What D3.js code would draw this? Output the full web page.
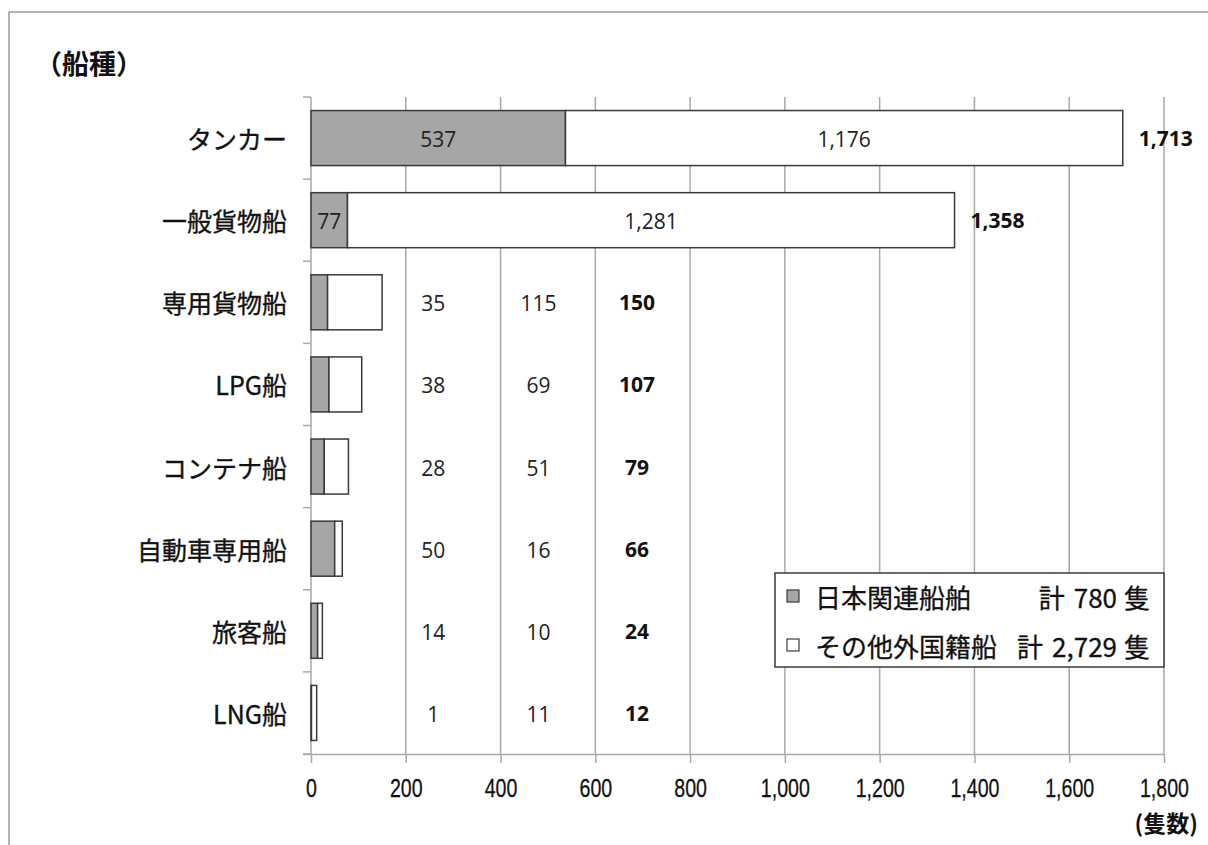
<!DOCTYPE html>
<html>
<head>
<meta charset="utf-8">
<script src="https://cdn.jsdelivr.net/npm/d3@7"></script>
<style>
  html, body { margin: 0; padding: 0; background: #fff; }
  svg { display: block; }
</style>
</head>
<body>
<svg id="chart" width="1208" height="845"></svg>
<script>
// Ship types and vessel counts
const categories = ["タンカー", "一般貨物船", "専用貨物船", "LPG船", "コンテナ船", "自動車専用船", "旅客船", "LNG船"];
const japanRelated = [537, 77, 35, 38, 28, 50, 14, 1];
const otherForeign = [1176, 1281, 115, 69, 51, 16, 10, 11];
const totals = [1713, 1358, 150, 107, 79, 66, 24, 12];
const xTicks = [0, 200, 400, 600, 800, 1000, 1200, 1400, 1600, 1800];
const seriesNames = ["日本関連船舶", "その他外国籍船"];
const seriesTotals = [780, 2729];

const svg = d3.select("#chart");
const W = 1208, H = 845;
const plot = { left: 311, right: 1164, top: 97, bottom: 754 };

const CJK = "'Noto Sans CJK JP', 'Noto Sans', sans-serif";
const NUM = "'Open Sans', 'Liberation Sans', sans-serif";
const gridColor = "#a8a8a8";
const barStroke = "#3a3a3a";
const fills = ["#a6a6a6", "#ffffff"];

// outer frame (open on the right and bottom edges of the canvas)
svg.append("rect")
  .attr("x", 9).attr("y", 12).attr("width", W + 20).attr("height", H + 20)
  .attr("fill", "none").attr("stroke", "#9a9a9a").attr("stroke-width", 1.5);

const x = d3.scaleLinear().domain([0, 1800]).range([plot.left, plot.right]);
const y = d3.scaleBand().domain(categories).range([plot.top, plot.bottom])
  .paddingInner(0.33).paddingOuter(0.165);

// vertical gridlines
svg.append("g").selectAll("line")
  .data(xTicks.filter(t => t > 0))
  .join("line")
  .attr("x1", d => x(d)).attr("x2", d => x(d))
  .attr("y1", plot.top).attr("y2", plot.bottom)
  .attr("stroke", gridColor).attr("stroke-width", 1.5);

// x axis with narrow tick numbers
const xAxis = svg.append("g")
  .attr("transform", `translate(0,${plot.bottom})`)
  .call(d3.axisBottom(x).tickValues(xTicks).tickFormat(d3.format(",")).tickSize(9).tickPadding(15.5));
xAxis.select(".domain").attr("stroke", gridColor).attr("stroke-width", 1.5)
  .attr("d", `M${plot.left - 8},0.5H${plot.right}`);
xAxis.selectAll(".tick line").attr("stroke", gridColor).attr("stroke-width", 1.5);
xAxis.selectAll(".tick text")
  .attr("font-family", "'Liberation Sans', sans-serif").attr("font-size", 26.5).attr("fill", "#111")
  .attr("stroke", "#111").attr("stroke-width", 0.3)
  .attr("transform", "scale(0.74,1)");

// y axis line with tick marks at band boundaries
const step = y.step();
const boundaries = d3.range(categories.length + 1).map(i => plot.top + i * step);
svg.append("line")
  .attr("x1", plot.left).attr("x2", plot.left)
  .attr("y1", plot.top).attr("y2", plot.bottom)
  .attr("stroke", gridColor).attr("stroke-width", 1.5);
svg.append("g").selectAll("line")
  .data(boundaries)
  .join("line")
  .attr("x1", plot.left - 8).attr("x2", plot.left)
  .attr("y1", d => d).attr("y2", d => d)
  .attr("stroke", gridColor).attr("stroke-width", 1.5);

// category labels
svg.append("g").selectAll("text")
  .data(categories)
  .join("text")
  .attr("x", 287)
  .attr("y", d => y(d) + y.bandwidth() / 2)
  .attr("text-anchor", "end")
  .attr("dominant-baseline", "central")
  .attr("font-family", CJK).attr("font-size", 25).attr("fill", "#111")
  .attr("stroke", "#111").attr("stroke-width", 0.35)
  .text(d => d);

// stacked bars
const stacks = categories.map((c, i) => ({
  cat: c,
  segs: [
    { s: 0, x0: 0, x1: japanRelated[i], v: japanRelated[i] },
    { s: 1, x0: japanRelated[i], x1: japanRelated[i] + otherForeign[i], v: otherForeign[i] }
  ],
  total: totals[i]
}));

const barG = svg.append("g");
stacks.forEach(row => {
  barG.selectAll(null)
    .data(row.segs)
    .join("rect")
    .attr("x", d => x(d.x0))
    .attr("y", y(row.cat))
    .attr("width", d => x(d.x1) - x(d.x0))
    .attr("height", y.bandwidth())
    .attr("fill", d => fills[d.s])
    .attr("stroke", barStroke).attr("stroke-width", 1.5);
});

// value labels: inside the segments for long bars, in fixed columns for short bars
const fmt = d3.format(",");
const colPos = [258, 480, 688];
const labelG = svg.append("g");
stacks.forEach(row => {
  const cy = y(row.cat) + y.bandwidth() / 2;
  const long = row.total > 600;
  row.segs.forEach(sg => {
    labelG.append("text")
      .attr("x", long ? x((sg.x0 + sg.x1) / 2) : x(colPos[sg.s]))
      .attr("y", cy + 1)
      .attr("text-anchor", "middle").attr("dominant-baseline", "central")
      .attr("font-family", NUM).attr("font-size", 21).attr("fill", "#222")
      .text(fmt(sg.v));
  });
  const tot = labelG.append("text")
    .attr("y", cy)
    .attr("dominant-baseline", "central")
    .attr("font-family", NUM).attr("font-size", 21).attr("font-weight", "bold").attr("fill", "#111")
    .text(fmt(row.total));
  if (long) tot.attr("x", x(row.total) + 16).attr("text-anchor", "start");
  else tot.attr("x", x(colPos[2])).attr("text-anchor", "middle");
});

// titles
svg.append("text")
  .attr("x", 35).attr("y", 62)
  .attr("dominant-baseline", "central")
  .attr("font-family", CJK).attr("font-size", 27).attr("font-weight", "bold").attr("fill", "#111")
  .text("（船種）");
svg.append("text")
  .attr("x", 1198).attr("y", 822)
  .attr("text-anchor", "end").attr("dominant-baseline", "central")
  .attr("font-family", CJK).attr("font-size", 23).attr("font-weight", "bold").attr("fill", "#111")
  .text("(隻数)");

// legend
const lg = svg.append("g");
lg.append("rect")
  .attr("x", 775).attr("y", 573).attr("width", 389).attr("height", 94)
  .attr("fill", "#fff").attr("stroke", barStroke).attr("stroke-width", 1.5);
const rowY = [596, 645];
const legendText = (sel) => sel
  .attr("dominant-baseline", "central")
  .attr("font-family", CJK).attr("font-size", 26).attr("fill", "#111")
  .attr("stroke", "#111").attr("stroke-width", 0.3);
seriesNames.forEach((name, i) => {
  lg.append("rect")
    .attr("x", 787).attr("y", rowY[i] - 6).attr("width", 12).attr("height", 12)
    .attr("fill", fills[i]).attr("stroke", barStroke).attr("stroke-width", 1.2);
  lg.append("text").call(legendText)
    .attr("x", 815).attr("y", rowY[i])
    .text(name);
  lg.append("text").call(legendText)
    .attr("x", 1150).attr("y", rowY[i]).attr("text-anchor", "end")
    .text("隻");
  const num = lg.append("text").call(legendText)
    .attr("x", 1117).attr("y", rowY[i]).attr("text-anchor", "end")
    .text(fmt(seriesTotals[i]));
  const nw = num.node().getComputedTextLength();
  lg.append("text").call(legendText)
    .attr("x", 1117 - nw - 9).attr("y", rowY[i]).attr("text-anchor", "end")
    .text("計");
});
</script>
</body>
</html>
